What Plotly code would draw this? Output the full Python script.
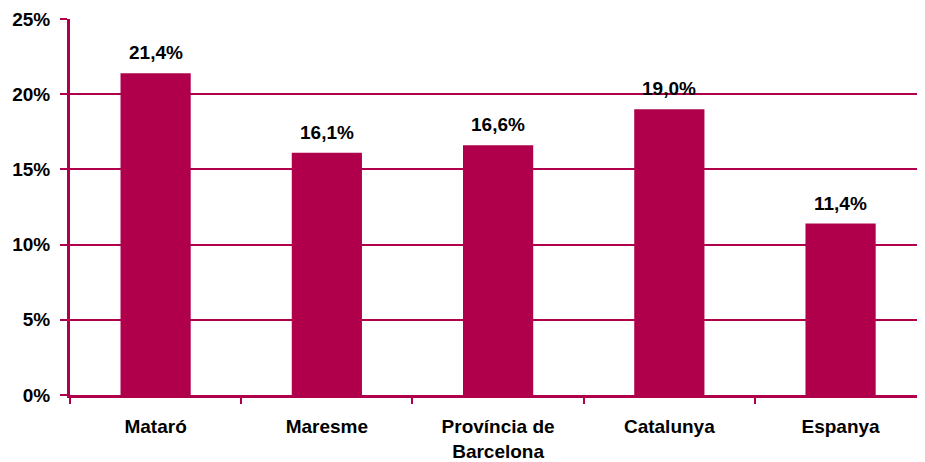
import plotly.graph_objects as go

categories = ["Mataró", "Maresme", "Província de<br>Barcelona", "Catalunya", "Espanya"]
values = [21.4, 16.1, 16.6, 19.0, 11.4]
labels = [f"{v:.1f}%".replace(".", ",") for v in values]
y_ticks = [0, 5, 10, 15, 20, 25]

crimson = "#B0004C"
font = dict(family="Liberation Sans, Arial, sans-serif", size=19, color="black", weight="bold")

fig = go.Figure(go.Bar(x=categories, y=values, marker=dict(color=crimson, line_width=0),
                       width=0.41))

for c, v, t in zip(categories, values, labels):
    fig.add_annotation(x=c, y=v, text=t, showarrow=False, yanchor="bottom",
                       yshift=8, font=font)

# page has an 8px body margin, so size and offsets are shifted to fit the window
fig.update_layout(
    width=917, height=454,
    margin=dict(l=62, r=0, t=11, b=64),
    plot_bgcolor="white", paper_bgcolor="white",
    showlegend=False,
    font=font,
)
fig.update_xaxes(
    range=[-0.5, 4.493], showline=True, linecolor=crimson, linewidth=3,
    ticks="outside", tickson="boundaries", ticklen=6, tickwidth=2, tickcolor=crimson,
    ticklabelstandoff=12, tickfont=font, showgrid=False,
)
fig.update_yaxes(
    range=[0, 25], tickvals=y_ticks, ticktext=[f"{t}%" for t in y_ticks],
    showline=True, linecolor=crimson, linewidth=3,
    showgrid=True, gridcolor=crimson, gridwidth=2, zeroline=False,
    ticks="outside", ticklen=7, tickwidth=2, tickcolor=crimson,
    ticklabelstandoff=6, tickfont=font,
)

fig.write_html("out.html", config={"displayModeBar": False})
